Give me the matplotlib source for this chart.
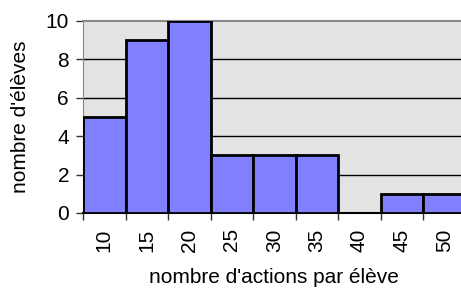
import matplotlib
matplotlib.use('Agg')
import matplotlib.pyplot as plt

# data
categories = ['10', '15', '20', '25', '30', '35', '40', '45', '50']
counts = [5, 9, 10, 3, 3, 3, 0, 1, 1]
y_ticks = [0, 2, 4, 6, 8, 10]

plt.rcParams['font.family'] = ['Liberation Sans', 'DejaVu Sans']

fig = plt.figure(figsize=(4.61, 2.88), dpi=100)
# plot area runs slightly past the right edge, like the original
ax = fig.add_axes([83 / 461, 75 / 288, 382.5 / 461, 192 / 288])
ax.set_facecolor('#E3E3E3')

pos = list(range(len(categories)))
ax.bar(pos, counts, width=1.0, color='#8080FF', edgecolor='black', linewidth=2, zorder=3)

ax.set_xlim(-0.5, len(categories) - 0.5)
ax.set_ylim(0, 10)
ax.set_yticks(y_ticks)
ax.set_yticklabels([str(v) for v in y_ticks], fontsize=15)
for v in y_ticks[1:-1]:
    ax.axhline(v, color='black', linewidth=1, zorder=1)

# ticks at the category boundaries, labels in the middle
ax.set_xticks([p - 0.5 for p in pos] + [len(categories) - 0.5])
ax.set_xticklabels([])
ax.set_xticks(pos, minor=True)
ax.set_xticklabels(categories, minor=True, rotation=90, fontsize=15)
ax.tick_params(axis='x', which='minor', length=0, pad=11)
ax.tick_params(axis='x', which='major', length=5, width=1, color='#333333')
ax.tick_params(axis='y', length=5, width=1, color='#333333', pad=5)

for s in ['top', 'right']:
    ax.spines[s].set_color('#888888')
    ax.spines[s].set_linewidth(1.5)
ax.spines['left'].set_color('#888888')
ax.spines['bottom'].set_color('black')
ax.spines['bottom'].set_linewidth(1.5)

ax.set_xlabel("nombre d'actions par élève", fontsize=15, labelpad=11.5)
ax.set_ylabel("nombre d'élèves", fontsize=15, labelpad=11)

fig.savefig('out.png', dpi=100)
